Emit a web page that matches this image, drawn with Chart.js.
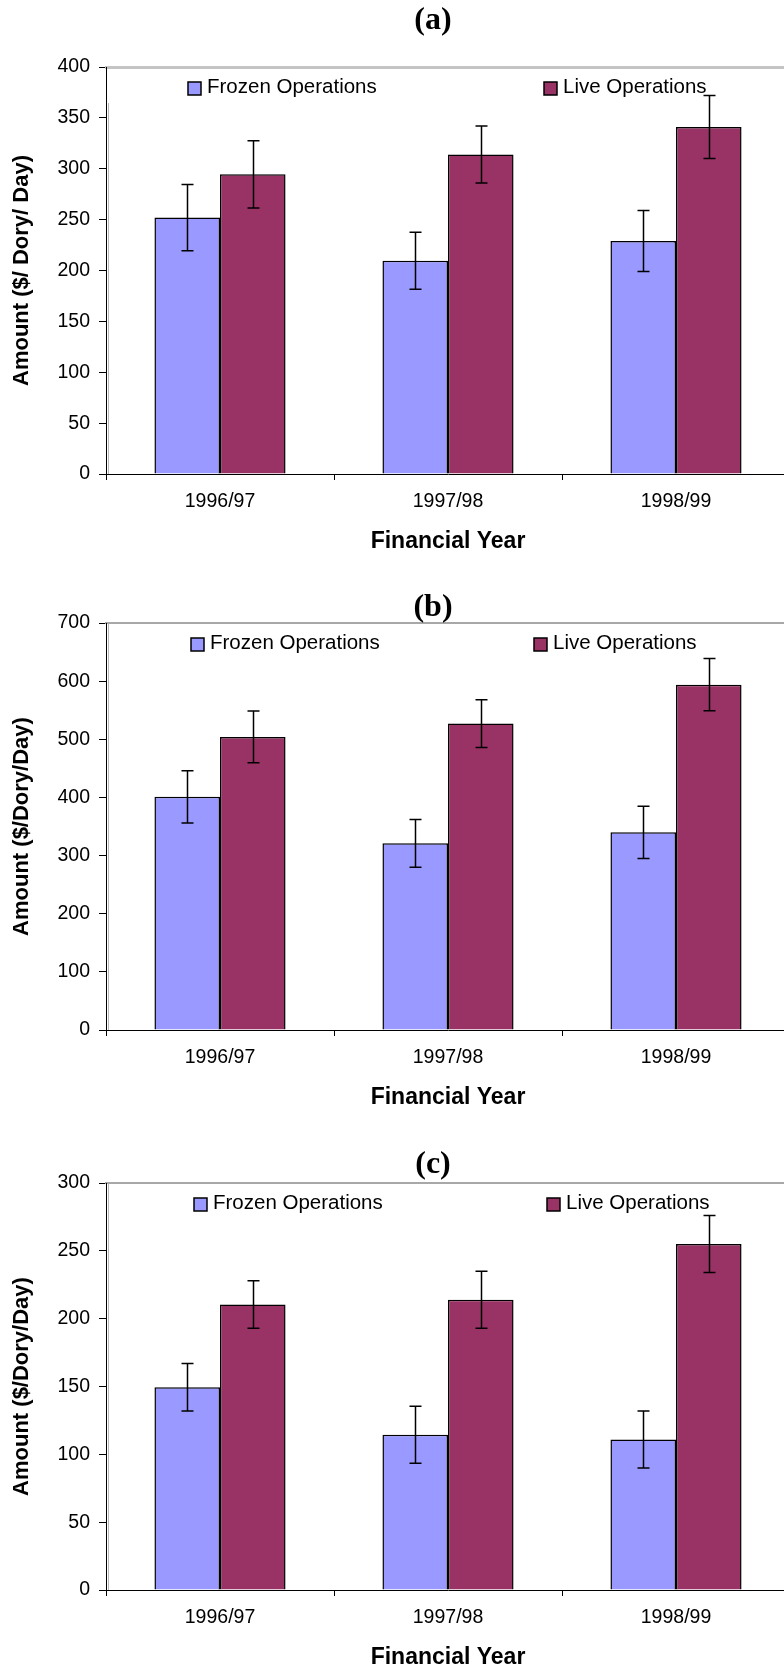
<!DOCTYPE html>
<html>
<head>
<meta charset="utf-8">
<script src="https://cdn.jsdelivr.net/npm/chart.js@4.4.0/dist/chart.umd.min.js"></script>
<style>
  html, body { margin: 0; padding: 0; background: #fff; overflow: hidden; }
  #page { position: relative; width: 784px; height: 1670px; overflow: hidden; background: #fff; }
  #page canvas { position: absolute; left: 0; }
</style>
</head>
<body>
<div id="page">
  <canvas id="panelA" width="800" height="560" style="top:0px"></canvas>
  <canvas id="panelB" width="800" height="560" style="top:556px"></canvas>
  <canvas id="panelC" width="800" height="560" style="top:1116px"></canvas>
</div>
<script>
// Financial years on the category axis
const categories = ['1996/97', '1997/98', '1998/99'];
const seriesNames = ['Frozen Operations', 'Live Operations'];

// (a) amount per dory per day
const frozenA = [252, 209.5, 229];
const frozenErrA = [32.5, 28, 30];
const liveA = [294.5, 314, 341];
const liveErrA = [33, 28, 31];

// (b)
const frozenB = [401, 321, 340];
const frozenErrB = [45, 41, 45];
const liveB = [504, 527, 594];
const liveErrB = [44.5, 41, 45];

// (c)
const frozenC = [149.5, 114.5, 111];
const frozenErrC = [17.5, 21, 21];
const liveC = [210.5, 214, 255];
const liveErrC = [17.5, 21, 21];

const SANS = '"Liberation Sans", Arial, Helvetica, sans-serif';
const SERIF = '"Liberation Serif", "Times New Roman", serif';
Chart.defaults.font.family = SANS;
Chart.defaults.color = '#000';

// Whiskers above and below each bar
const errorBarPlugin = {
  id: 'errorBars',
  afterDatasetsDraw(chart, args, opts) {
    const ctx = chart.ctx;
    const yScale = chart.scales.y;
    ctx.save();
    ctx.strokeStyle = '#000';
    ctx.lineWidth = opts.lineWidth || 1.5;
    chart.data.datasets.forEach((ds, di) => {
      const errs = opts.values[di];
      const meta = chart.getDatasetMeta(di);
      meta.data.forEach((bar, i) => {
        const v = ds.data[i];
        const e = errs[i];
        const x = Math.round(bar.x) + 0.5;
        const yHi = yScale.getPixelForValue(v + e);
        const yLo = yScale.getPixelForValue(v - e);
        const half = opts.capWidth / 2;
        ctx.beginPath();
        ctx.moveTo(x, yHi); ctx.lineTo(x, yLo);
        ctx.moveTo(x - half, yHi); ctx.lineTo(x + half, yHi);
        ctx.moveTo(x - half, yLo); ctx.lineTo(x + half, yLo);
        ctx.stroke();
      });
    });
    ctx.restore();
  }
};

// Series key placed inside the plot area
const boxLegendPlugin = {
  id: 'boxLegend',
  afterDraw(chart, args, opts) {
    const ctx = chart.ctx;
    ctx.save();
    ctx.font = `${opts.fontSize}px ${SANS}`;
    ctx.textBaseline = 'alphabetic';
    ctx.textAlign = 'left';
    chart.data.datasets.forEach((ds, i) => {
      const x = opts.x[i];
      const base = opts.baseline;
      ctx.fillStyle = ds.backgroundColor;
      ctx.fillRect(x, base - 11, 13, 13);
      ctx.strokeStyle = '#000';
      ctx.lineWidth = 1.5;
      ctx.strokeRect(x, base - 11, 13, 13);
      ctx.fillStyle = '#000';
      ctx.fillText(ds.label, x + 19, base);
    });
    ctx.restore();
  }
};

// Panel letter above each chart
const panelLabelPlugin = {
  id: 'panelLabel',
  afterDraw(chart, args, opts) {
    const ctx = chart.ctx;
    const ca = chart.chartArea;
    ctx.save();
    ctx.font = `bold ${opts.size}px ${SERIF}`;
    ctx.fillStyle = '#000';
    ctx.textAlign = 'center';
    ctx.textBaseline = 'middle';
    ctx.fillText(opts.text, (ca.left + ca.right) / 2 + opts.dx, opts.y);
    ctx.restore();
  }
};

// Thin grey frame line just inside the value axis
const frameLinePlugin = {
  id: 'frameLine',
  beforeDatasetsDraw(chart, args, opts) {
    const ctx = chart.ctx;
    const ca = chart.chartArea;
    ctx.save();
    ctx.strokeStyle = '#b8b8b8';
    ctx.lineWidth = 1;
    ctx.beginPath();
    ctx.moveTo(ca.left + 2.5, ca.top + opts.startOffset);
    ctx.lineTo(ca.left + 2.5, ca.bottom);
    ctx.stroke();
    ctx.restore();
  }
};

function makePanel(id, p) {
  return new Chart(document.getElementById(id), {
    type: 'bar',
    data: {
      labels: categories,
      datasets: [
        { label: seriesNames[0], data: p.frozen, backgroundColor: '#9999FF',
          borderColor: '#000', borderWidth: 1.5 },
        { label: seriesNames[1], data: p.live, backgroundColor: '#993366',
          borderColor: '#000', borderWidth: 1.5 }
      ]
    },
    plugins: [frameLinePlugin, errorBarPlugin, boxLegendPlugin, panelLabelPlugin],
    options: {
      responsive: false,
      animation: false,
      events: [],
      layout: { padding: { left: 0, right: 10, top: 67, bottom: 0 } },
      datasets: { bar: { categoryPercentage: 0.575, barPercentage: 1.0 } },
      plugins: {
        legend: { display: false },
        tooltip: { enabled: false },
        title: { display: false },
        frameLine: { startOffset: p.frameStart },
        errorBars: { values: [p.frozenErr, p.liveErr], capWidth: 12, lineWidth: 1.5 },
        boxLegend: { x: p.legendX, baseline: 93, fontSize: 20.5 },
        panelLabel: { text: p.letter, y: p.letterY, dx: -15, size: 32 }
      },
      scales: {
        x: {
          type: 'category',
          position: 'bottom',
          offset: true,
          grid: { display: true, offset: true, drawOnChartArea: false, drawTicks: true,
                  tickLength: 6, color: '#000', lineWidth: 1 },
          border: { display: true, color: '#000', width: 1 },
          ticks: { color: '#000', font: { size: 19.5 }, padding: 10, maxRotation: 0, autoSkip: false },
          title: { display: true, text: 'Financial Year', color: '#000',
                   font: { size: 23, weight: 'bold' }, padding: { top: 0, bottom: 5 } },
          afterFit: (s) => { s.height = 86; }
        },
        x2: {
          type: 'category',
          position: 'top',
          offset: true,
          grid: { display: false, drawTicks: false },
          ticks: { display: false },
          border: { display: true, color: p.topColor, width: p.topWidth, dash: p.topDash },
          afterFit: (s) => { s.height = 0; }
        },
        y: {
          min: 0,
          max: p.max,
          ticks: { stepSize: p.step, color: '#000', font: { size: 19.5 }, padding: 9 },
          grid: { display: true, drawOnChartArea: false, drawTicks: true, tickLength: 7,
                  color: '#000', lineWidth: 1 },
          border: { display: true, color: '#000', width: 1 },
          title: { display: true, text: p.yTitle, color: '#000',
                   font: { size: 22, weight: 'bold' }, padding: { top: 9, bottom: 0 } },
          afterFit: (s) => { s.width = 106; }
        }
      }
    }
  });
}

makePanel('panelA', {
  letter: '(a)', letterY: 21,
  frozen: frozenA, frozenErr: frozenErrA, live: liveA, liveErr: liveErrA,
  max: 400, step: 50, yTitle: 'Amount ($/ Dory/ Day)',
  legendX: [188, 544],
  topColor: '#c4c4c4', topWidth: 3, topDash: [],
  frameStart: 36
});

makePanel('panelB', {
  letter: '(b)', letterY: 52,
  frozen: frozenB, frozenErr: frozenErrB, live: liveB, liveErr: liveErrB,
  max: 700, step: 100, yTitle: 'Amount ($/Dory/Day)',
  legendX: [191, 534],
  topColor: '#a8a8a8', topWidth: 2, topDash: [1, 1],
  frameStart: 1
});

makePanel('panelC', {
  letter: '(c)', letterY: 49,
  frozen: frozenC, frozenErr: frozenErrC, live: liveC, liveErr: liveErrC,
  max: 300, step: 50, yTitle: 'Amount ($/Dory/Day)',
  legendX: [194, 547],
  topColor: '#a8a8a8', topWidth: 2, topDash: [1, 1],
  frameStart: 1
});
</script>
</body>
</html>
